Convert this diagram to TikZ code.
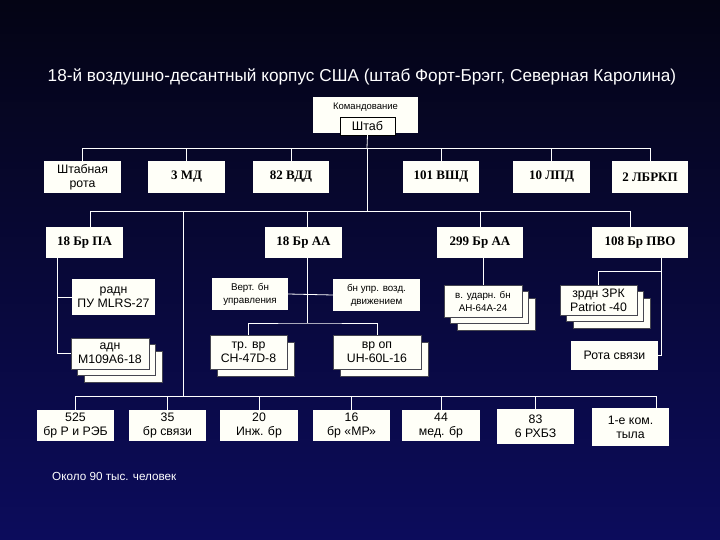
\documentclass[tikz,border=0pt]{standalone}
\usepackage{fontspec}
\setmainfont{Liberation Sans}
\newfontfamily\serifb{Liberation Serif}
\usetikzlibrary{shadows}
\definecolor{bgtop}{RGB}{4,4,20}
\definecolor{bgbot}{RGB}{12,12,92}
\definecolor{boxfill}{RGB}{255,255,248}
\definecolor{edge}{RGB}{70,70,80}
\begin{document}
\begin{tikzpicture}[x=1pt,y=-1pt,
  box/.style={fill=boxfill, inner sep=1pt, outer sep=0pt, align=center, font=\fontsize{12.3}{14}\selectfont},
  smalltxt/.style={font=\fontsize{9.8}{13}\selectfont},
  boldtxt/.style={font=\serifb\bfseries\fontsize{13}{15}\selectfont},
  stackone/.style={draw=edge, line width=0.5pt, copy shadow={shadow xshift=7pt, shadow yshift=-7pt, fill=boxfill, draw=edge, line width=0.5pt}},
  stacktwo/.style={draw=edge, line width=0.5pt,
     copy shadow={shadow xshift=13pt, shadow yshift=-13pt, fill=boxfill, draw=edge, line width=0.5pt},
     copy shadow={shadow xshift=6.5pt, shadow yshift=-6.5pt, fill=boxfill, draw=edge, line width=0.5pt}},
  link/.style={draw=white, line width=0.8pt}]
\shade[top color=bgtop, bottom color=bgbot] (0,0) rectangle (720,540);
\useasboundingbox (0,0) rectangle (720,540);

% title
\node[font=\fontsize{17.2}{20}\selectfont, text=white] (title) at (362,77) {18-й воздушно-десантный корпус США (штаб Форт-Брэгг, Северная Каролина)};

% command
\node[box, minimum width=105pt, minimum height=36pt] (kom) at (365.5,115) {};
\node[font=\fontsize{9.5}{10}\selectfont, inner sep=0pt] (komt) at (365.5,107) {Командование};
\node[box, draw=black, line width=0.6pt, minimum width=55pt, minimum height=18pt, font=\fontsize{12.5}{14}\selectfont] (shtab) at (367.5,126) {Штаб};

% row 1
\node[box, minimum width=77pt, minimum height=32pt] (hq) at (82.5,177) {Штабная\\рота};
\node[box, boldtxt, minimum width=77pt, minimum height=32pt] (md) at (186.5,177) {3 МД};
\node[box, boldtxt, minimum width=76pt, minimum height=32pt] (vdd) at (291,177) {82 ВДД};
\node[box, boldtxt, minimum width=76pt, minimum height=32pt] (vshd) at (441,177) {101 ВШД};
\node[box, boldtxt, minimum width=77pt, minimum height=32pt] (lpd) at (551.5,177) {10 ЛПД};
\node[box, boldtxt, minimum width=76pt, minimum height=32pt] (lb) at (650,177) {2 ЛБРКП};

% row 2
\node[box, boldtxt, minimum width=77pt, minimum height=31pt] (pa) at (84.5,242.5) {18 Бр ПА};
\node[box, boldtxt, minimum width=77pt, minimum height=31pt] (aa) at (303.5,242.5) {18 Бр АА};
\node[box, boldtxt, minimum width=86pt, minimum height=31pt] (a299) at (480,242.5) {299 Бр АА};
\node[box, boldtxt, minimum width=96pt, minimum height=31pt] (pvo) at (640,242.5) {108 Бр ПВО};

% 18 Br PA subtree
\node[box, minimum width=83pt, minimum height=36pt] (radn) at (113.5,297) {радн\\ПУ MLRS-27};
\node[box, stacktwo, minimum width=78pt, minimum height=31pt] (adn) at (110,353.5) {адн\\M109A6-18};

% 18 Br AA subtree
\node[box, smalltxt, minimum width=76pt, minimum height=32pt] (vert) at (250,294) {Верт. бн\\управления};
\node[box, smalltxt, minimum width=87pt, minimum height=32pt] (bnupr) at (376.5,295) {бн упр. возд.\\движением};
\node[box, stackone, minimum width=77pt, minimum height=34pt] (tr) at (248.5,352) {тр. вр\\CH-47D-8};
\node[box, stackone, minimum width=88pt, minimum height=34pt] (vrop) at (377,352) {вр оп\\UH-60L-16};

% 299 subtree
\node[box, smalltxt, stacktwo, minimum width=78pt, minimum height=32pt] (udar) at (483,301) {в. ударн. бн\\AH-64A-24};

% 108 subtree
\node[box, stacktwo, minimum width=77pt, minimum height=30pt] (zrdn) at (598.5,300) {зрдн ЗРК\\Patriot -40};
\node[box, minimum width=87pt, minimum height=29pt] (rota) at (614.5,355.5) {Рота связи};

% bottom row
\node[box, minimum width=77pt, minimum height=31pt] (b525) at (75.5,425.5) {525\\бр Р и РЭБ};
\node[box, minimum width=77pt, minimum height=31pt] (b35) at (167.5,425.5) {35\\бр связи};
\node[box, minimum width=78pt, minimum height=31pt] (b20) at (259,425.5) {20\\Инж. бр};
\node[box, minimum width=77pt, minimum height=31pt] (b16) at (351.5,425.5) {16\\бр «МР»};
\node[box, minimum width=78pt, minimum height=31pt] (b44) at (441,425.5) {44\\мед. бр};
\node[box, minimum width=77pt, minimum height=35pt] (b83) at (535.5,426.5) {83\\6 РХБЗ};
\node[box, minimum width=77pt, minimum height=38pt] (b1e) at (630.5,427) {1-е ком.\\тыла};

\node[font=\fontsize{11.7}{13}\selectfont, text=white, anchor=west, inner sep=0pt] (note) at (52,476) {Около 90 тыс. человек};

% connectors
\coordinate (j0) at (367,148);
\coordinate (j1) at (367,211);
\coordinate (p2w) at (90,211);
\coordinate (p2e) at (630,211);
\coordinate (j2) at (183,211);
\coordinate (j3) at (183,396);
\coordinate (p3e) at (656,396);
\coordinate (pax) at (57,300);
\coordinate (aj) at (307,323);
\coordinate (pv) at (661,300);
\coordinate (zj) at (661,271);

\draw[link] (shtab.south) -- (j0);
\draw[link] (hq.north) -- (hq.north |- j0) -- (lb.north |- j0) -- (lb.north);
\foreach \n in {md,vdd,vshd,lpd} \draw[link] (\n.north) -- (\n.north |- j0);
\draw[link] (j0) -- (j1);

\draw[link] (p2w |- pa.north) -- (p2w) -- (p2e) -- (p2e |- pvo.north);
\draw[link] (aj |- aa.north) -- (aj |- j1);
\draw[link] (a299.north) -- (a299.north |- j1);
\draw[link] (j2) -- (j3);

\draw[link] (b525.north) -- (b525.north |- j3) -- (p3e) -- (p3e |- b1e.north);
\foreach \n in {b35,b20,b16,b44,b83} \draw[link] (\n.north) -- (\n.north |- j3);

\draw[link] (pax |- pa.south) |- (adn.west);
\draw[link] (radn.west) -- (radn.west -| pax);

\draw[link] (aj |- aa.south) -- (aj);
\draw[link] (vert.east) -- (bnupr.west);
\draw[link] (tr.north) |- (aj) -| (vrop.north);

\draw[link] (udar.north) -- (udar.north |- a299.south);

\draw[link] (pv |- pvo.south) |- (rota.east);
\draw[link] (zj) -| (zrdn.north);
\end{tikzpicture}
\end{document}
